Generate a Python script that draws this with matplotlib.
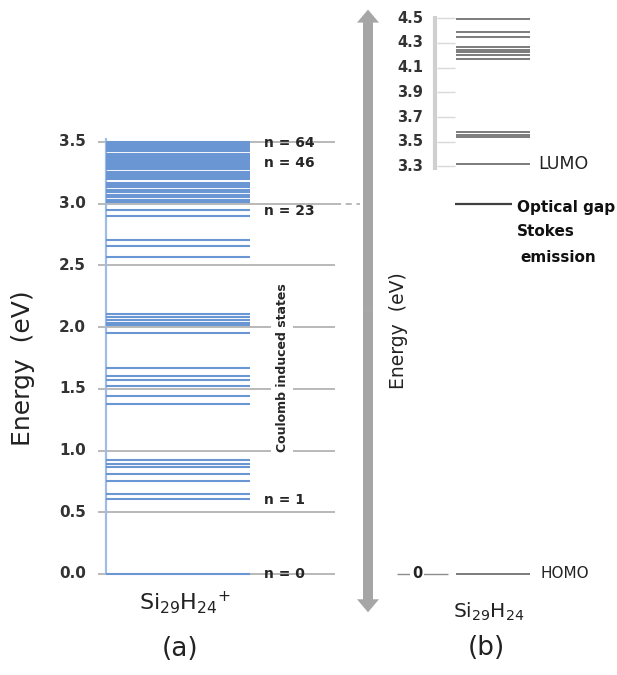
import matplotlib
matplotlib.use("Agg")
import matplotlib.pyplot as plt

# energy levels (eV)
# (a) Si29H24+ : Coulomb induced states, n = 0 ... 64
cation_levels = [
    0.0, 0.607, 0.647, 0.755, 0.81, 0.87, 0.89, 0.922,
    1.373, 1.44, 1.524, 1.57, 1.607, 1.672,
    1.955, 2.02, 2.036, 2.06, 2.082, 2.106,
    2.565, 2.659, 2.702, 2.902, 2.95,
    3.01, 3.03, 3.05, 3.07, 3.09, 3.11, 3.13, 3.15, 3.167,
    3.20, 3.21, 3.22, 3.23, 3.24, 3.25, 3.256,
    3.283, 3.293, 3.30, 3.31, 3.32, 3.33, 3.34, 3.35, 3.36, 3.37, 3.38, 3.39, 3.398,
    3.425, 3.432, 3.44, 3.447, 3.455, 3.462, 3.47, 3.477, 3.485, 3.492, 3.50,
]
left_ticks = [0.0, 0.5, 1.0, 1.5, 2.0, 2.5, 3.0, 3.5]
n_labels = ["n = 64", "n = 46", "n = 23", "n = 1", "n = 0"]
n_label_e = [3.49, 3.33, 2.94, 0.60, 0.0]

# (b) Si29H24 : neutral cluster
neutral_levels = [4.49, 4.39, 4.35, 4.265, 4.245, 4.225, 4.20, 4.17,
                  3.575, 3.555, 3.535, 3.32, 0.0]
right_ticks = [3.3, 3.5, 3.7, 3.9, 4.1, 4.3, 4.5]
lumo = 3.32
homo = 0.0
optical_gap = 3.0

# layout: y in eV, x in figure pixels
W, H = 617, 675
Y0_PX = 574
PX_PER_EV = 123.5

fig = plt.figure(figsize=(W / 100, H / 100), dpi=100)
ax = fig.add_axes([0, 0, 1, 1])
ax.set_xlim(0, W)
ax.set_ylim((Y0_PX - H) / PX_PER_EV, Y0_PX / PX_PER_EV)
ax.axis("off")

grid_col = "#a6a6a6"
blue = "#6a97d4"
txt = "#333333"

# ---- panel (a)
ax.hlines(left_ticks, 98, 335, color=grid_col, lw=1.1, zorder=1)
ax.hlines(3.0, 335, 360, color=grid_col, lw=1.1, linestyles=(0, (4, 3)), zorder=1)
ax.vlines(106, 0, 3.53, color="#9dbde6", lw=1.6, zorder=2)
ax.hlines(cation_levels, 106, 250, color=blue, lw=1.5, zorder=3)

for t in left_ticks:
    ax.text(86, t, f"{t:.1f}", ha="right", va="center", fontsize=11,
            fontweight="bold", color=txt)

for lab, e in zip(n_labels, n_label_e):
    ax.text(264, e, lab, ha="left", va="center", fontsize=10,
            fontweight="bold", color="#262626", zorder=4)

ax.text(282, 1.67, "Coulomb induced states", rotation=90, ha="center",
        va="center", fontsize=9, fontweight="bold", color="#262626", zorder=4,
        bbox=dict(fc="white", ec="none", pad=3))

ax.text(23, 1.67, "Energy  (eV)", rotation=90, ha="center", va="center",
        fontsize=18, color="#222222")
ax.text(185, -0.29, "Si$_{29}$H$_{24}$$^{+}$", ha="center", va="baseline",
        fontsize=16, color="#222222")
ax.text(180, -0.607, "(a)", ha="center", va="center", fontsize=19,
        color="#222222")

# ---- big double arrow
arrow_mid = 2.13
for tip in [4.57, -0.31]:
    ax.arrow(368, arrow_mid, 0, tip - arrow_mid, width=10, head_width=22,
             head_length=13 / PX_PER_EV, length_includes_head=True,
             fc="#a6a6a6", ec="none", zorder=2)

ax.text(398, 1.97, "Energy  (eV)", rotation=90, ha="center", va="center",
        fontsize=13.5, color="#222222")

# ---- panel (b)
ax.vlines(435, 3.27, 4.52, color="#cfcfcf", lw=3, zorder=1)
ax.hlines(right_ticks, 437, 455, color="#d9d9d9", lw=1.0, zorder=1)
for t in right_ticks:
    ax.text(423, t, f"{t:.1f}", ha="right", va="center", fontsize=10.5,
            fontweight="bold", color=txt)

ax.hlines(neutral_levels, 456, 530, color="#595959", lw=1.1, zorder=3)
ax.hlines(optical_gap, 455, 512, color="#404040", lw=1.6, zorder=3)

ax.hlines(homo, 397, 448, color="#8c8c8c", lw=1.0, zorder=1)
ax.text(417, homo, "0", ha="center", va="center", fontsize=10.5,
        fontweight="bold", color="#222222", zorder=4,
        bbox=dict(fc="white", ec="none", pad=1.5))

ax.text(538, lumo, "LUMO", ha="left", va="center", fontsize=12.5, color="#222222")
ax.text(540, homo, "HOMO", ha="left", va="center", fontsize=11, color="#222222")
ax.text(517, 2.97, "Optical gap", ha="left", va="center", fontsize=11,
        fontweight="bold", color="#111111")
ax.text(517, 2.77, "Stokes", ha="left", va="center", fontsize=11,
        fontweight="bold", color="#111111")
ax.text(520, 2.56, "emission", ha="left", va="center", fontsize=11,
        fontweight="bold", color="#111111")

ax.text(489, -0.35, "Si$_{29}$H$_{24}$", ha="center", va="baseline",
        fontsize=14.5, color="#222222")
ax.text(486, -0.60, "(b)", ha="center", va="center", fontsize=19,
        color="#222222")

fig.savefig("out.png", dpi=100)
